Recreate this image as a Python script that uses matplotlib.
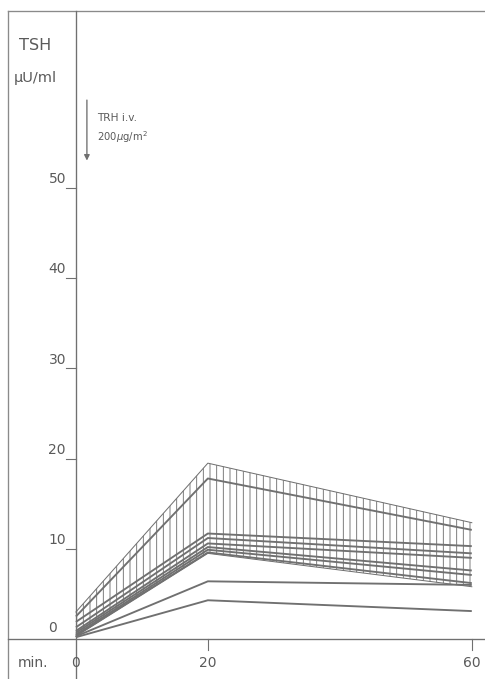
import numpy as np
import matplotlib
matplotlib.use('Agg')
from matplotlib import pyplot as plt

# TSH response to TRH i.v. (200 ug/m2), minutes 0 / 20 / 60
minutes = [0, 20, 60]

# hatched band (upper and lower border)
band_upper = [3.0, 19.5, 12.9]
band_lower = [0.3, 9.5, 5.8]

# single curves
curves = [
    [2.5, 17.8, 12.1],
    [1.9, 11.7, 10.3],
    [1.3, 11.2, 9.5],
    [0.9, 10.6, 9.0],
    [0.7, 10.2, 7.6],
    [0.5, 9.9, 7.1],
    [0.4, 9.6, 6.2],
    [0.3, 6.4, 6.0],
    [0.2, 4.3, 3.1],
]

y_ticks = [10, 20, 30, 40, 50]
x_ticks = [20, 60]

grey = '#707070'
txt = '#5a5a5a'

plt.rcParams['hatch.linewidth'] = 0.8
plt.rcParams['hatch.color'] = grey

fig = plt.figure(figsize=(485 / 80, 679 / 80), dpi=80)
ax = fig.add_axes([0, 0, 1, 1])
ax.set_xlim(-11.5, 62)
ax.set_ylim(-4.43, 70.85)
ax.axis('off')

# frame (top + left) and axes lines
ax.plot([-10.3, 62], [69.6, 69.6], color='#8a8a8a', lw=1.2)
ax.plot([-10.3, -10.3], [69.6, -4.43], color='#8a8a8a', lw=1.2)
ax.plot([0, 0], [69.6, -4.43], color=grey, lw=1.2)
ax.plot([-10.3, 62], [0, 0], color=grey, lw=1.2)

# hatched band
ax.fill_between(minutes, band_lower, band_upper, facecolor='none',
                edgecolor=grey, hatch='||', linewidth=0)
ax.plot(minutes, band_upper, color=grey, lw=0.9)
ax.plot(minutes, band_lower, color=grey, lw=0.9)

for c in curves:
    ax.plot(minutes, c, color=grey, lw=1.7, solid_capstyle='butt')

# y ticks
for v in y_ticks:
    ax.plot([-1.5, 0], [v, v], color=grey, lw=1)
    ax.text(-1.5, v + 0.2, str(v), ha='right', va='bottom', fontsize=12.5, color=txt)
ax.text(-3.6, 1.2, '0', ha='center', va='center', fontsize=12.5, color=txt)

# x ticks
for v in x_ticks:
    ax.plot([v, v], [0, -1.2], color=grey, lw=1)
for v in [0] + x_ticks:
    ax.text(v, -2.7, str(v), ha='center', va='center', fontsize=12.5, color=txt)
ax.text(-6.5, -2.7, 'min.', ha='center', va='center', fontsize=12.5, color=txt)

# axis title
ax.text(-6.2, 65.8, 'TSH', ha='center', va='center', fontsize=14.5, color=txt)
ax.text(-6.1, 62.2, 'µU/ml', ha='center', va='center', fontsize=13, color=txt)

# TRH injection arrow
ax.annotate('', xy=(1.67, 52.8), xytext=(1.67, 60.0),
            arrowprops=dict(arrowstyle='-|>', color=grey, lw=1.2, mutation_scale=10))
ax.text(3.2, 57.8, 'TRH i.v.', ha='left', va='center', fontsize=9.5, color=txt)
ax.text(3.2, 55.6, '200$\\mu$g/m$^2$', ha='left', va='center', fontsize=9, color=txt)

plt.savefig('out.png', dpi=80)
